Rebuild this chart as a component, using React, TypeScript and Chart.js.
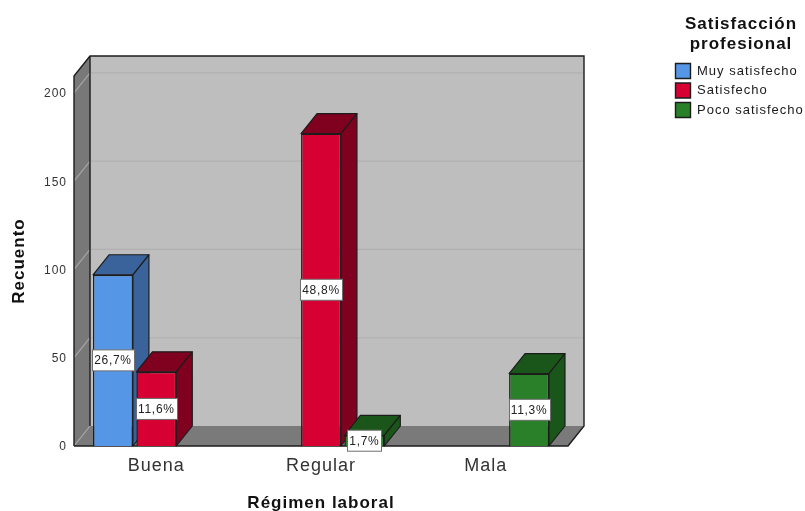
import React, { useEffect, useRef } from "react";
import { Chart, registerables } from "chart.js";

Chart.register(...registerables);

const categories = ["Buena", "Regular", "Mala"];
const muySatisfecho = [97, null, null];
const satisfecho = [42, 177, null];
const pocoSatisfecho = [null, 6, 41];
const muyLabels = ["26,7%", null, null];
const satLabels = ["11,6%", "48,8%", null];
const pocoLabels = [null, "1,7%", "11,3%"];
const seriesLabels = ["Muy satisfecho", "Satisfecho", "Poco satisfecho"];
const legendTitle = ["Satisfacción", "profesional"];
const FRONT = ["#5596E6", "#D60032", "#2A8029"];
const SIDE = ["#39639A", "#7F001F", "#1A561A"];
const LABELS = [muyLabels, satLabels, pocoLabels];
const DX = 16;
const DY = 20;
const FONT = "'Liberation Sans', Arial, sans-serif";
const LINE = "#1c1c1c";

function poly(ctx: any, pts: number[][], fill: string, stroke?: string, lw = 1) {
  ctx.beginPath();
  pts.forEach((p, i) => (i ? ctx.lineTo(p[0], p[1]) : ctx.moveTo(p[0], p[1])));
  ctx.closePath();
  ctx.fillStyle = fill;
  ctx.fill();
  if (stroke) {
    ctx.strokeStyle = stroke;
    ctx.lineWidth = lw;
    ctx.lineJoin = "round";
    ctx.stroke();
  }
}

const scene3d = {
  id: "scene3d",
  beforeDraw(chart: any) {
    chart.ctx.letterSpacing = "1px";
  },
  afterLayout(chart: any) {
    const l = chart.legend;
    const h = l.height;
    l.left = 671;
    l.top = 59;
    l.right = 805;
    l.width = 134;
    l.bottom = 59 + h;
  },
  beforeDatasetsDraw(chart: any) {
    const { ctx, chartArea: a, scales } = chart;
    const { left: L, right: R, top: T, bottom: B } = a;
    ctx.save();
    poly(ctx, [[L + DX, T - DY], [R + DX, T - DY], [R + DX, B - DY], [L + DX, B - DY]], "#BEBEBE");
    poly(ctx, [[L, T], [L + DX, T - DY], [L + DX, B - DY], [L, B]], "#787878");
    poly(ctx, [[L, B], [L + DX, B - DY], [R + DX, B - DY], [R, B]], "#7A7A7A");
    ctx.lineWidth = 1.2;
    scales.y.ticks.forEach((t: any) => {
      const y = scales.y.getPixelForValue(t.value);
      ctx.strokeStyle = "#A6A6A6";
      ctx.beginPath();
      ctx.moveTo(L, y);
      ctx.lineTo(L + DX, y - DY);
      ctx.stroke();
      if (t.value === 0) return;
      ctx.strokeStyle = "#B0B0B0";
      ctx.beginPath();
      ctx.moveTo(L + DX, y - DY);
      ctx.lineTo(R + DX, y - DY);
      ctx.stroke();
    });
    ctx.strokeStyle = LINE;
    ctx.lineWidth = 1.4;
    ctx.beginPath();
    ctx.moveTo(L, B);
    ctx.lineTo(L, T);
    ctx.lineTo(L + DX, T - DY);
    ctx.lineTo(R + DX, T - DY);
    ctx.lineTo(R + DX, B - DY);
    ctx.lineTo(R, B);
    ctx.lineTo(L, B);
    ctx.moveTo(L + DX, T - DY);
    ctx.lineTo(L + DX, B - DY);
    ctx.stroke();
    // depth faces of every bar, under all the front faces
    chart.data.datasets.forEach((ds: any, i: number) => {
      chart.getDatasetMeta(i).data.forEach((bar: any, j: number) => {
        if (ds.data[j] == null) return;
        const p = bar.getProps(["x", "y", "base", "width"], true);
        const l = p.x - p.width / 2;
        const r = p.x + p.width / 2;
        poly(ctx, [[l, p.y], [l + DX, p.y - DY], [r + DX, p.y - DY], [r, p.y]], SIDE[i], LINE, 1.2);
        poly(ctx, [[r, p.y], [r + DX, p.y - DY], [r + DX, p.base - DY], [r, p.base]], SIDE[i], LINE, 1.2);
      });
    });
    ctx.restore();
  },
  afterDatasetsDraw(chart: any) {
    const { ctx } = chart;
    ctx.save();
    ctx.letterSpacing = "0.7px";
    ctx.font = `12px ${FONT}`;
    ctx.textAlign = "center";
    ctx.textBaseline = "middle";
    chart.data.datasets.forEach((_: any, i: number) => {
      chart.getDatasetMeta(i).data.forEach((bar: any, j: number) => {
        const text = LABELS[i][j];
        if (!text) return;
        const p = bar.getProps(["x", "y", "base"], true);
        const cy = (p.y + p.base) / 2;
        const w = Math.round(ctx.measureText(text).width) + 4;
        const left = Math.round(p.x - w / 2) + 0.5;
        ctx.fillStyle = "#FFFFFF";
        ctx.strokeStyle = "#6E6E6E";
        ctx.lineWidth = 1;
        ctx.fillRect(left, cy - 10.5, w, 21);
        ctx.strokeRect(left, cy - 10.5, w, 21);
        ctx.fillStyle = "#222222";
        ctx.fillText(text, p.x, cy + 0.5);
      });
    });
    ctx.font = `bold 17px ${FONT}`;
    ctx.letterSpacing = "1px";
    ctx.fillStyle = "#111111";
    legendTitle.forEach((line, k) => ctx.fillText(line, 741, 24 + k * 20));
    ctx.restore();
  },
};

export default function App() {
  const ref = useRef<HTMLCanvasElement>(null);
  useEffect(() => {
    const chart = new Chart(ref.current as HTMLCanvasElement, {
      type: "bar",
      data: {
        labels: categories,
        datasets: [muySatisfecho, satisfecho, pocoSatisfecho].map((data, i) => ({
          label: seriesLabels[i],
          data,
          backgroundColor: FRONT[i],
          borderColor: LINE,
          borderWidth: 1.4,
          clip: false as any,
          categoryPercentage: 0.79,
          barPercentage: 0.92,
        })),
      },
      options: {
        responsive: false,
        animation: false,
        layout: { padding: { left: 0, right: 237, top: 76, bottom: 0 } },
        plugins: {
          tooltip: { enabled: false },
          legend: {
            position: "chartArea" as any,
            align: "start",
            labels: {
              boxWidth: 15,
              boxHeight: 15,
              padding: 4.5,
              color: "#1a1a1a",
              font: { family: FONT, size: 13 },
            },
          },
        },
        scales: {
          x: {
            grid: { display: false },
            border: { display: false },
            ticks: {
              color: "#333333",
              font: { family: FONT, size: 18 },
              padding: 1,
              maxRotation: 0,
            },
            title: {
              display: true,
              text: "Régimen laboral",
              color: "#111111",
              font: { family: FONT, size: 17, weight: "bold" },
              padding: { top: 22, bottom: -3 },
            },
            afterFit(s: any) {
              s.height = 65;
            },
          },
          y: {
            min: 0,
            max: 209.6,
            grid: { display: false, drawTicks: false },
            border: { display: false },
            ticks: {
              stepSize: 50,
              includeBounds: false,
              labelOffset: 1,
              color: "#333333",
              font: { family: FONT, size: 12 },
              padding: 7,
            },
            title: {
              display: true,
              text: "Recuento",
              color: "#111111",
              font: { family: FONT, size: 17, weight: "bold" },
              padding: { top: 9, bottom: 0 },
            },
            afterFit(s: any) {
              s.width = 74;
            },
          },
        },
      },
      plugins: [scene3d],
    } as any);
    return () => chart.destroy();
  }, []);
  return (
    <canvas
      ref={ref}
      width={805}
      height={511}
      style={{ position: "absolute", left: 0, top: 0, display: "block" }}
    />
  );
}
